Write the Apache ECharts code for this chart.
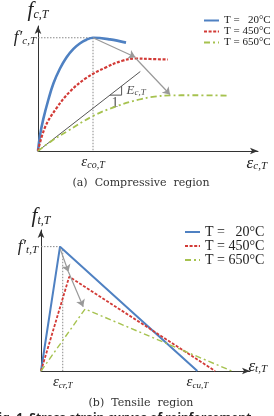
<!DOCTYPE html>
<html>
<head>
<meta charset="utf-8">
<script src="https://cdn.jsdelivr.net/npm/echarts@6/dist/echarts.min.js"></script>
<style>
html,body{margin:0;padding:0;background:#fff;}
#c{width:274px;height:416px;}
</style>
</head>
<body>
<div id="c"></div>
<script>
// ---------- data (schematic units 0..100) ----------
const legendNames = ['T =   20°C', 'T = 450°C', 'T = 650°C'];

// (a) Compressive region
const epsCo = 25;
const fcPeak = 90.6;
const comp20 = [[0,0],[0.9,12.5],[2.4,25.5],[4.7,41],[7,54],[10,66],[13,75],[16,81.5],[19,86],[22,89],[25,90.6],[32.7,89.3],[40,86.7]];
const comp450 = [[0,0],[3.2,19],[8.5,34.5],[14.5,47.5],[22,58.5],[31,67],[38,72],[44.5,74],[51,73.6],[59,73.2]];
const comp650 = [[0,0],[6,7.8],[13,15.5],[25,28],[36,36],[46,41.2],[53,43.5],[60,44.5],[70,44.6],[86,44.3]];
const tangentLine = [[0,0],[46.5,63.6]];
const slopeTriangle = [[32.7,44.7],[38,44.7],[38,52]];
const compArrows = [[[25,90.6],[44.3,75]], [[44.5,74],[60,45.2]]];
const compGuides = [[[0,fcPeak],[epsCo,fcPeak]], [[epsCo,fcPeak],[epsCo,0]]];

// (b) Tensile region
const ftPeak = 88.2;
const epsCr = 10.4;
const epsCu = 74.8;
const tens20 = [[0,0],[9.1,88.2],[74.8,0]];
const tens450 = [[0,0],[13.5,66.9],[83.3,0]];
const tens650 = [[0,0],[21.1,44],[91.2,0]];
const tensArrows = [[[9.1,87],[13.1,70.4]], [[13.1,70.4],[20.2,45.6]]];
const tensGuides = [[[0,ftPeak],[9.1,ftPeak]], [[epsCr,86],[epsCr,0]]];

// ---------- styles ----------
const C_BLUE = '#4f81c2', C_RED = '#d23a36', C_GREEN = '#a6c24f';
const SERIF = 'Liberation Serif';
const mathRich = (big, small) => ({
  f: {fontFamily: SERIF, fontStyle: 'italic', fontSize: big, color: '#222'},
  s: {fontFamily: SERIF, fontStyle: 'italic', fontSize: small, color: '#222', verticalAlign: 'bottom', padding: [0,0,0,0]}
});

const chart = echarts.init(document.getElementById('c'), null, {renderer: 'canvas'});

function axisBase() {
  return {
    type: 'value', min: 0, max: 100,
    axisLine: {show: true, lineStyle: {color: '#333', width: 1}, symbol: ['none','arrow'], symbolSize: [5, 8]},
    axisTick: {show: false}, splitLine: {show: false}
  };
}

function guideSeries(segs, xi) {
  return segs.map(s => ({
    type: 'line', xAxisIndex: xi, yAxisIndex: xi, data: s, symbol: 'none', silent: true,
    lineStyle: {color: '#888', width: 1, type: [1.5, 1.5]}, z: 1
  }));
}

const xAxes = [
  Object.assign(axisBase(), {
    gridIndex: 0,
    name: '{f|ε}{s|c,T}', nameLocation: 'end', nameGap: 9,
    nameTextStyle: {align: 'right', verticalAlign: 'top', padding: [4,0,0,0], rich: mathRich(17, 11)},
    axisLabel: {customValues: [epsCo], margin: 4, formatter: () => '{f|ε}{s|co,T}', rich: mathRich(15, 10)}
  }),
  Object.assign(axisBase(), {
    gridIndex: 1,
    name: '{f|ε}{s|t,T}', nameLocation: 'end', nameGap: 17,
    nameTextStyle: {align: 'right', verticalAlign: 'bottom', padding: [0,0,-4,0], rich: mathRich(17, 11)},
    axisLabel: {customValues: [epsCr, epsCu], margin: 4,
      formatter: v => v === epsCr ? '{f|ε}{s|cr,T}' : '{f|ε}{s|cu,T}', rich: mathRich(15, 9)}
  })
];
const yAxes = [
  Object.assign(axisBase(), {
    gridIndex: 0,
    name: '{f|f}{s|c,T}', nameLocation: 'end', nameGap: 5,
    nameTextStyle: {align: 'center', verticalAlign: 'bottom', rich: mathRich(21, 12)},
    axisLabel: {customValues: [fcPeak], margin: 2, formatter: () => '{f|f′}{s|c,T}', rich: mathRich(17, 11)}
  }),
  Object.assign(axisBase(), {
    gridIndex: 1,
    name: '{f|f}{s|t,T}', nameLocation: 'end', nameGap: 3,
    nameTextStyle: {align: 'center', verticalAlign: 'bottom', rich: mathRich(21, 12)},
    axisLabel: {customValues: [ftPeak], margin: 3, formatter: () => '{f|f′}{s|t,T}', rich: mathRich(17, 11)}
  })
];

function curve(name, data, xi, color, type, width, smooth) {
  return {
    name: name, type: 'line', xAxisIndex: xi, yAxisIndex: xi, data: data, symbol: 'none',
    smooth: smooth, lineStyle: {color: color, width: width, type: type}, itemStyle: {color: color}, z: 3
  };
}

const series = [
  ...guideSeries(compGuides, 0),
  {type: 'line', xAxisIndex: 0, yAxisIndex: 0, data: tangentLine, symbol: 'none', lineStyle: {color: '#555', width: 1}, z: 2},
  {type: 'line', xAxisIndex: 0, yAxisIndex: 0, data: slopeTriangle, symbol: 'none', lineStyle: {color: '#555', width: 1}, z: 2},
  curve(legendNames[0], comp20, 0, C_BLUE, 'solid', 2.6, 0.4),
  curve(legendNames[1], comp450, 0, C_RED, [3, 1.6], 2.2, 0.4),
  curve(legendNames[2], comp650, 0, C_GREEN, [6, 3, 2, 3], 1.8, 0.4),
  {type: 'lines', coordinateSystem: 'cartesian2d', xAxisIndex: 0, yAxisIndex: 0,
   symbol: ['none','arrow'], symbolSize: 7, lineStyle: {color: '#999', width: 1.2, opacity: 1},
   data: compArrows.map(a => ({coords: a})), z: 4},
  {type: 'scatter', xAxisIndex: 0, yAxisIndex: 0, symbolSize: 0, silent: true,
   data: [
     {value: [40.2, 48], label: {show: true, position: 'right', distance: 0, formatter: '{f|E}{s|c,T}', rich: mathRich(13, 9)}},
     {value: [35, 38.5], label: {show: true, position: 'inside', formatter: '{f|1}', rich: {f: {fontFamily: SERIF, fontSize: 14, color: '#222'}}}}
   ]},

  ...guideSeries(tensGuides, 1),
  curve(legendNames[0], tens20, 1, C_BLUE, 'solid', 2, false),
  curve(legendNames[1], tens450, 1, C_RED, [3, 1.6], 1.8, false),
  curve(legendNames[2], tens650, 1, C_GREEN, [6, 3, 2, 3], 1.4, false),
  {type: 'lines', coordinateSystem: 'cartesian2d', xAxisIndex: 1, yAxisIndex: 1,
   symbol: ['none','arrow'], symbolSize: 7, lineStyle: {color: '#999', width: 1.2, opacity: 1},
   data: tensArrows.map(a => ({coords: a})), z: 4}
];

const legendText = (size) => ({fontFamily: SERIF, fontSize: size, color: '#222', lineHeight: 11});

chart.setOption({
  animation: false,
  backgroundColor: '#fff',
  grid: [
    {left: 38, top: 23, width: 220, height: 128},
    {left: 41, top: 230, width: 209, height: 141}
  ],
  xAxis: xAxes,
  yAxis: yAxes,
  legend: [
    {data: legendNames, orient: 'vertical', left: 203, top: 15, itemWidth: 15, itemHeight: 8, itemGap: 0, padding: 0,
     selectedMode: false, textStyle: legendText(11), itemStyle: {opacity: 0}},
    {data: legendNames, orient: 'vertical', left: 184, top: 225, itemWidth: 15, itemHeight: 8, itemGap: 0, padding: 0,
     selectedMode: false, textStyle: legendText(14), itemStyle: {opacity: 0}}
  ],
  title: [
    {text: '(a)  Compressive  region', left: 141, top: 178, textAlign: 'center', padding: 0,
     textStyle: {fontFamily: 'DejaVu Serif', fontSize: 11, fontWeight: 'normal', color: '#333'}},
    {text: '(b)  Tensile  region', left: 141, top: 398, textAlign: 'center', padding: 0,
     textStyle: {fontFamily: 'DejaVu Serif', fontSize: 11, fontWeight: 'normal', color: '#333'}}
  ],
  graphic: [
    {type: 'text', left: -8, top: 413, silent: true,
     style: {text: 'Fig. 1  Stress-strain curves of reinforcement', font: 'bold 12px "Noto Sans"', fill: '#222'}}
  ],
  series: series
});
</script>
</body>
</html>
